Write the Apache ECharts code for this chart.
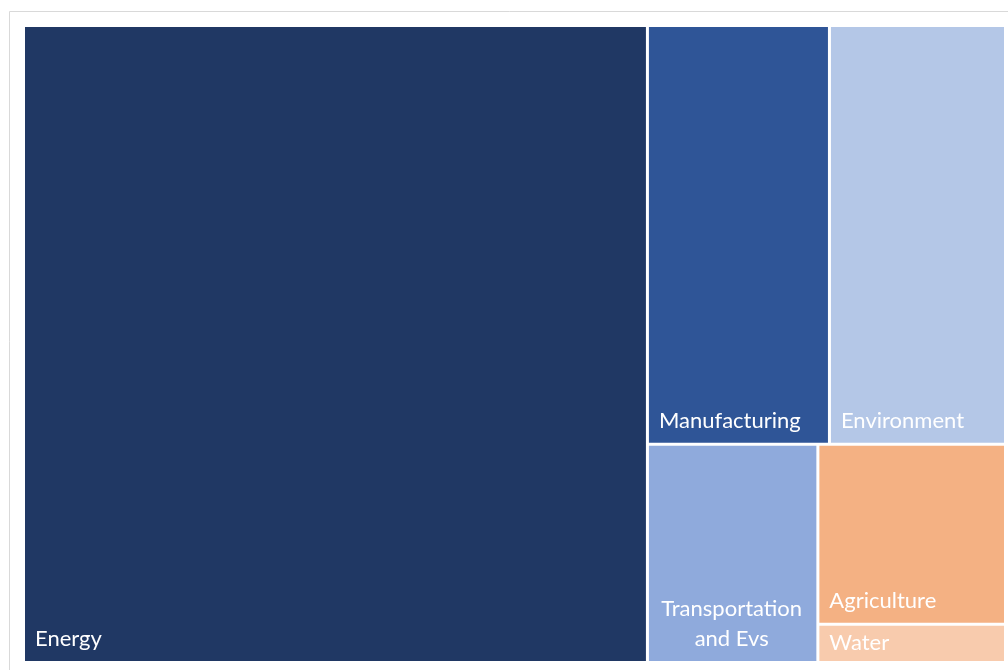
<!DOCTYPE html>
<html>
<head>
<meta charset="utf-8">
<script src="https://cdn.jsdelivr.net/npm/echarts@6/dist/echarts.min.js"></script>
<style>
  html, body { margin: 0; padding: 0; background: #fff; }
  #chart { width: 1008px; height: 670px; }
</style>
</head>
<body>
<div id="chart"></div>
<script>
// Sector shares shown as treemap tiles
const sectors = ['Energy', 'Manufacturing', 'Environment', 'Transportation and Evs', 'Agriculture', 'Water'];
const shares = [63.6, 12.2, 11.8, 5.95, 5.4, 1.15];
const colors = ['#203864', '#2F5597', '#B4C7E7', '#8FAADC', '#F4B183', '#F8CBAD'];
// Label lines per sector (the long name wraps onto two centred lines)
const labelLines = {
  'Transportation and Evs': ['Transportation', 'and Evs']
};

const FONT = 'Lato';
const FONT_SIZE = 22;
const LINE_H = 30;
const PAD_LEFT = 10;
const PAD_BOTTOM = 7;

const chart = echarts.init(document.getElementById('chart'), null, { renderer: 'canvas' });

function buildData(labelPads) {
  return sectors.map((name, i) => {
    const item = { name: name, value: shares[i], itemStyle: { color: colors[i] } };
    if (labelPads && labelPads[name]) {
      item.label = { padding: labelPads[name] };
    }
    return item;
  });
}

const baseOption = {
  animation: false,
  graphic: [{
    type: 'rect',
    shape: { x: 9.5, y: 11.5, width: 1100, height: 700 },
    style: { fill: 'none', stroke: '#d9d9d9', lineWidth: 1 },
    silent: true
  }],
  series: [{
    type: 'treemap',
    left: 25,
    top: 27,
    width: 979,
    height: 634,
    squareRatio: 1.4,
    roam: false,
    nodeClick: false,
    breadcrumb: { show: false },
    itemStyle: { gapWidth: 3, borderWidth: 0, borderColor: '#fff' },
    label: {
      show: true,
      color: '#fff',
      fontFamily: FONT,
      fontSize: FONT_SIZE,
      lineHeight: LINE_H,
      padding: [5, 5, PAD_BOTTOM, PAD_LEFT],
      formatter: function (p) {
        const lines = labelLines[p.name];
        if (lines) {
          return lines.map(s => '{c|' + s + '}').join('\n');
        }
        return '{t|' + p.name + '}';
      },
      rich: {
        t: { color: '#fff', fontFamily: FONT, fontSize: FONT_SIZE, lineHeight: LINE_H, align: 'left' },
        c: { color: '#fff', fontFamily: FONT, fontSize: FONT_SIZE, lineHeight: LINE_H, align: 'center' }
      }
    },
    upperLabel: { show: false },
    data: buildData(null)
  }]
};

chart.setOption(baseOption);

// Push each label to the bottom-left of its tile using the laid-out tile sizes;
// tiles too short for that get their label centred vertically.
const seriesModel = chart.getModel().getSeriesByIndex(0);
const tree = seriesModel.getData().tree;
const pads = {};
tree.root.children.forEach(node => {
  const lay = node.getLayout();
  const nLines = (labelLines[node.name] || [node.name]).length;
  const textH = nLines * LINE_H;
  let top = lay.height - textH - PAD_BOTTOM;
  let bottom = PAD_BOTTOM;
  if (lay.height < 60) {
    top = (lay.height - textH) / 2;
    bottom = top;
  }
  const right = labelLines[node.name] ? 12 : 5;
  pads[node.name] = [Math.max(top, 0), right, Math.max(bottom, 0), PAD_LEFT];
});

chart.setOption({ series: [{ data: buildData(pads) }] });
</script>
</body>
</html>
